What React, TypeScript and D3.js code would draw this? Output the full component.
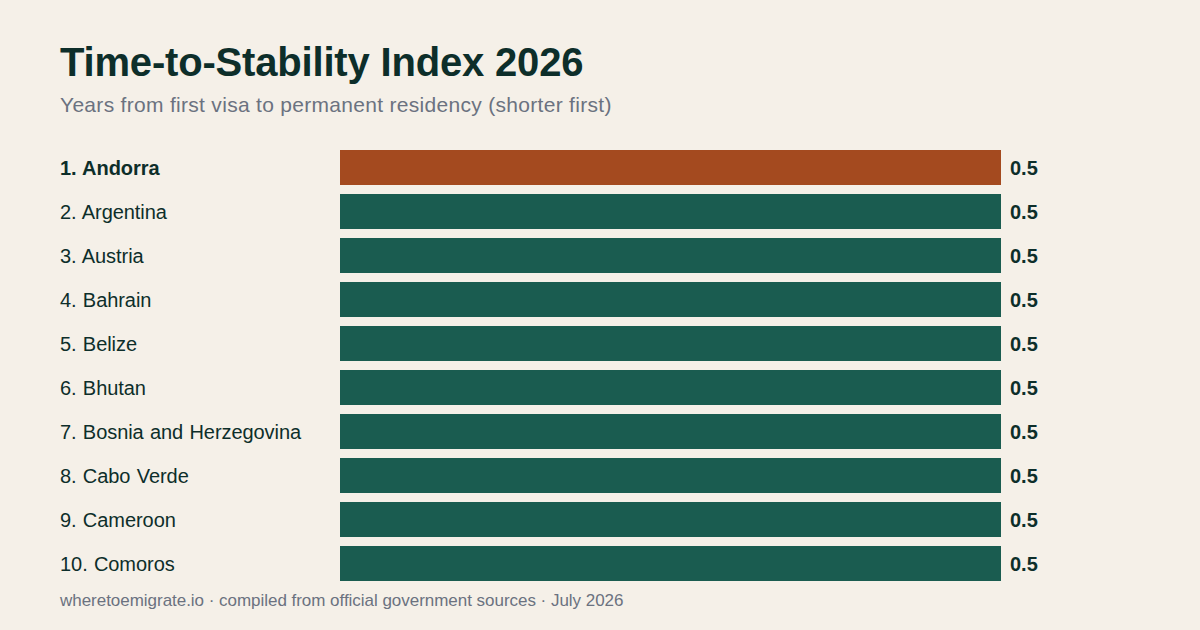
import React from "react";
import * as d3 from "d3";

const countries = ["Andorra","Argentina","Austria","Bahrain","Belize","Bhutan","Bosnia and Herzegovina","Cabo Verde","Cameroon","Comoros"];
const years = [0.5,0.5,0.5,0.5,0.5,0.5,0.5,0.5,0.5,0.5];
const title = "Time-to-Stability Index 2026";
const subtitle = "Years from first visa to permanent residency (shorter first)";
const footer = "wheretoemigrate.io · compiled from official government sources · July 2026";

const font = "Liberation Sans, Arial, sans-serif";
const W = 1200, H = 630;

export default function App() {
  const x = d3.scaleLinear().domain([0, 0.5]).range([340, 1001]);
  const y = d3.scaleBand<number>().domain(d3.range(countries.length)).range([145.5, 585.5]).paddingInner(9 / 44).paddingOuter(4.5 / 44);
  return (
    <svg width={W} height={H} viewBox={`0 0 ${W} ${H}`} style={{ position: "fixed", left: 0, top: 0, display: "block", background: "#f5f0e8" }}>
      <rect width={W} height={H} fill="#f5f0e8" />
      <text x={60} y={76} fontFamily={font} fontSize={40} fontWeight={700} letterSpacing={-0.18} fill="#0d2e2a">{title}</text>
      <text x={60} y={112} fontFamily={font} fontSize={21} letterSpacing={0.3} fill="#6b7280">{subtitle}</text>
      {countries.map((c, i) => {
        const by = y(i)!;
        const cy = by + y.bandwidth() / 2;
        return (
          <g key={c}>
            <text x={60} y={cy + 7} fontFamily={font} fontSize={20} fontWeight={i === 0 ? 700 : 400} wordSpacing={0.8} letterSpacing={-0.06} fill="#0d2e2a">{`${i + 1}. ${c}`}</text>
            <rect x={x(0)} y={by} width={x(years[i]) - x(0)} height={y.bandwidth()} fill={i === 0 ? "#a44a1f" : "#1a5c50"} />
            <text x={x(years[i]) + 9} y={cy + 7} fontFamily={font} fontSize={20} fontWeight={700} fill="#0d2e2a">{years[i].toFixed(1)}</text>
          </g>
        );
      })}
      <text x={60} y={606} fontFamily={font} fontSize={17} letterSpacing={-0.03} fill="#6b7280">{footer}</text>
    </svg>
  );
}
